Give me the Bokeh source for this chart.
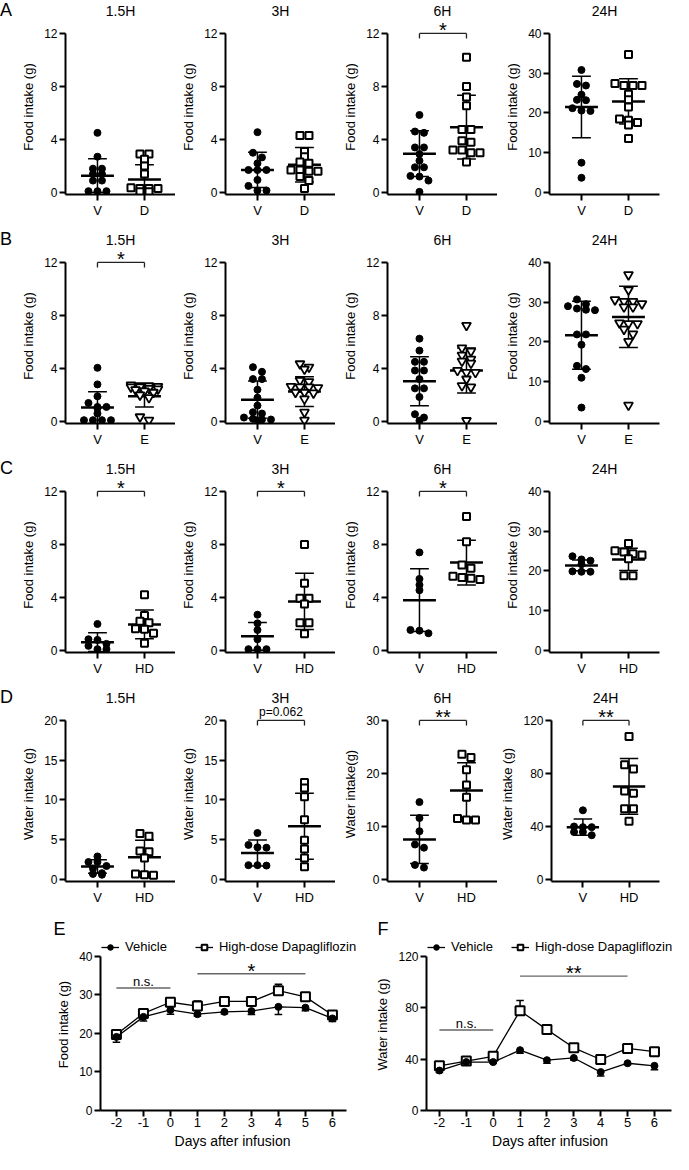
from bokeh.plotting import figure
from bokeh.layouts import column, row
from bokeh.models import Range1d, FixedTicker, Label, Legend, LegendItem, Div, Title
from bokeh.embed import file_html
from bokeh.resources import INLINE

FONT = "Liberation Sans"

# ---------------- data ----------------
TIMES = ["1.5H", "3H", "6H", "24H"]
ROW_LETTERS = ["A", "B", "C", "D"]

# Row A: vehicle (V) vs dapagliflozin (D)
A_GROUPS = ["V", "D"]
A_15H_V = [4.5, 2.7, 1.8, 1.8, 1.4, 1.4, 0.9, 0.9, 0.1, 0.1, 0.1]
A_15H_D = [2.9, 2.9, 2.5, 2.0, 1.4, 0.35, 0.3, 0.3, 0.3, 0.05, 0.05]
A_3H_V = [4.55, 3.0, 2.65, 2.2, 1.7, 1.7, 1.7, 0.95, 0.5, 0.15, 0.15]
A_3H_D = [4.3, 4.3, 3.1, 2.7, 2.3, 2.2, 1.7, 1.7, 1.6, 1.6, 1.2, 0.9, 0.3]
A_6H_V = [5.85, 4.6, 4.5, 3.4, 3.4, 2.9, 2.4, 1.9, 1.9, 1.25, 1.2, 0.9, 0.05]
A_6H_D = [10.2, 8.0, 7.2, 6.55, 4.75, 4.75, 3.9, 3.8, 3.2, 3.0, 3.0, 3.2, 2.3]
A_24H_V = [30.8, 27.3, 26.9, 24.6, 23.2, 23.3, 21.2, 20.5, 20.6, 7.5, 3.7]
A_24H_D = [34.7, 27.4, 26.9, 26.9, 26.9, 24.7, 23.3, 21.5, 18.5, 18.2, 17.6, 17.0, 13.6]
A_MEAN = [(1.27, 0.98), (1.7, 2.1), (2.93, 4.93), (21.5, 22.9)]
A_SD = [(1.27, 1.12), (1.33, 1.3), (1.72, 2.4), (7.75, 5.7)]
A_SIG = [None, None, "*", None]

# Row B: V vs E
B_GROUPS = ["V", "E"]
B_15H_V = [4.05, 2.8, 1.9, 1.4, 1.1, 1.1, 1.0, 0.6, 0.1, 0.1, 0.1, 0.1]
B_15H_E = [2.75, 2.7, 2.7, 2.65, 2.6, 2.6, 2.5, 2.45, 2.4, 2.3, 2.2, 2.0, 1.8, 0.35, 0.1]
B_3H_V = [4.1, 3.75, 3.2, 3.2, 2.4, 1.8, 1.2, 0.7, 0.6, 0.3, 0.2, 0.15, 0.15, 0.1]
B_3H_E = [4.35, 4.1, 3.95, 3.1, 3.0, 2.65, 2.6, 2.6, 2.55, 2.2, 2.2, 2.15, 1.7, 0.7, 0.1]
B_6H_V = [6.25, 5.35, 4.5, 4.5, 3.85, 3.85, 3.2, 2.5, 2.5, 1.85, 0.55, 0.3, 0.07]
B_6H_E = [7.25, 5.55, 5.3, 5.0, 4.7, 4.55, 4.4, 3.85, 3.7, 3.7, 3.2, 2.7, 2.6, 0.07]
B_24H_V = [30.7, 29.5, 29.0, 28.4, 28.1, 28.0, 21.9, 21.9, 19.3, 14.0, 13.2, 11.0, 3.5]
B_24H_E = [36.9, 33.1, 30.6, 30.2, 30.2, 29.6, 28.8, 28.8, 24.8, 24.6, 24.6, 23.2, 22.0, 20.1, 4.1]
B_MEAN = [(1.05, 1.9), (1.65, 2.26), (3.04, 3.85), (21.7, 26.3)]
B_SD = [(1.2, 0.8), (1.41, 1.12), (1.85, 1.7), (8.55, 7.7)]
B_SIG = ["*", None, None, None]

# Row C: V vs HD (food)
C_GROUPS = ["V", "HD"]
C_15H_V = [2.0, 0.85, 0.8, 0.5, 0.35, 0.1, 0.1]
C_15H_HD = [4.2, 2.65, 2.2, 2.1, 1.65, 1.6, 1.3, 0.55]
C_3H_V = [2.7, 2.05, 1.55, 0.85, 0.1, 0.1, 0.1]
C_3H_HD = [8.0, 5.07, 3.95, 3.95, 3.5, 2.1, 2.1, 1.27]
C_6H_V = [7.4, 5.4, 4.95, 4.55, 1.55, 1.5, 1.3]
C_6H_HD = [10.1, 8.2, 6.45, 6.2, 5.6, 5.45, 5.35, 5.5]
C_24H_V = [23.7, 22.9, 22.6, 21.7, 19.9, 19.8, 19.8]
C_24H_HD = [26.9, 25.1, 24.8, 24.3, 24.0, 23.1, 18.8, 18.8]
C_MEAN = [(0.63, 1.97), (1.07, 3.7), (3.8, 6.63), (21.4, 22.9)]
C_SD = [(0.71, 1.08), (1.05, 2.12), (2.37, 1.68), (1.35, 2.8)]
C_SIG = ["*", "*", "*", None]

# Row D: V vs HD (water)
D_GROUPS = ["V", "HD"]
D_15H_V = [2.9, 2.2, 2.2, 1.7, 1.4, 0.8, 0.7, 0.6]
D_15H_HD = [5.8, 5.45, 3.6, 3.5, 2.7, 0.7, 0.6, 0.55]
D_3H_V = [5.85, 4.35, 4.05, 4.0, 1.8, 1.8, 1.75]
D_3H_HD = [12.2, 11.5, 10.4, 7.5, 4.95, 3.85, 2.7, 1.6]
D_6H_V = [14.6, 11.6, 9.1, 6.6, 6.0, 2.75, 2.25]
D_6H_HD = [23.6, 23.0, 20.7, 17.8, 15.5, 11.5, 11.2, 11.2]
D_24H_V = [52.2, 40.0, 39.5, 39.5, 35.8, 35.8, 33.4]
D_24H_HD = [107.8, 86.6, 83.4, 66.8, 65.1, 53.4, 53.4, 43.9]
D_MEAN = [(1.63, 2.8), (3.33, 6.7), (7.56, 16.8), (39.5, 70.2)]
D_SD = [(0.85, 2.15), (1.63, 4.15), (4.55, 5.2), (6.1, 21.0)]
D_SIG = [None, "p=0.062", "**", "**"]

FOOD_MAX = [12, 12, 12, 40]
FOOD_TICKS = [[0, 4, 8, 12]] * 3 + [[0, 10, 20, 30, 40]]
WATER_MAX = [20, 20, 30, 120]
WATER_TICKS = [[0, 5, 10, 15, 20], [0, 5, 10, 15, 20], [0, 10, 20, 30], [0, 40, 80, 120]]
FOOD_LABELS = ["Food intake (g)"] * 4
WATER_LABELS = ["Water intake (g)", "Water intake (g)", "Water intake(g)", "Water intake (g)"]

# Time course (E, F)
DAYS = [-2, -1, 0, 1, 2, 3, 4, 5, 6]
DAY_LABELS = ["-2", "-1", "0", "1", "2", "3", "4", "5", "6"]
E_VEH = [19.1, 24.3, 26.1, 25.0, 25.6, 25.8, 26.9, 26.7, 23.9]
E_VEH_SEM = [1.4, 1.1, 1.1, 0.5, 0.5, 0.9, 2.0, 0.8, 0.8]
E_HD = [19.75, 25.2, 28.1, 27.1, 28.3, 28.3, 31.1, 29.5, 24.8]
E_HD_SEM = [0.5, 0.5, 0.5, 1.3, 0.4, 0.6, 1.7, 0.4, 0.6]
F_VEH = [31.1, 37.7, 37.7, 47.0, 39.2, 40.9, 29.9, 36.8, 34.8]
F_VEH_SEM = [1.5, 1.0, 1.0, 2.5, 2.5, 1.5, 3.0, 1.0, 3.0]
F_HD = [34.8, 38.5, 42.2, 77.7, 63.0, 48.8, 39.7, 48.3, 45.8]
F_HD_SEM = [1.0, 1.0, 1.5, 8.0, 2.0, 1.0, 3.5, 1.0, 1.5]
E_NS_LINE = (-2, 0, 31.8)
E_SIG_LINE = (1, 5, 35.5)
F_NS_LINE = (-2, 0, 62.7)
F_SIG_LINE = (1, 5, 104.7)
LEGEND_LABELS = ["Vehicle", "High-dose Dapagliflozin"]

# ---------------- layout geometry ----------------
ROW_H = 229
TOP_B = 18          # canvas y of frame top
HEAD = 14           # px of frame above the top tick (room for brackets / stars)
DATA_H = 160        # px from 0 to the top tick
LOW = 2             # px of frame below 0
BOT_B = ROW_H - TOP_B - HEAD - DATA_H - LOW
FRAME_W = 110
LETTER_W = 14
COL_W = [161, 160, 162, 176]
COL_BL = [51, 50, 52, 52]
XR = (-0.68, 1.66)

MARKERS = {
    "V": dict(marker="circle", size=7, fill_color="black", line_color="black", line_width=1),
    "D": dict(marker="square", size=7, fill_color="white", line_color="black", line_width=2),
    "HD": dict(marker="square", size=7, fill_color="white", line_color="black", line_width=2),
    "E": dict(marker="inverted_triangle", size=9, fill_color="white", line_color="black", line_width=1.8),
}


def style_axes(p, xsize="13px", ysize="12px"):
    for ax in (p.xaxis[0], p.yaxis[0]):
        ax.axis_line_width = 2
        ax.axis_line_color = "black"
        ax.major_tick_line_width = 2
        ax.major_tick_line_color = "black"
        ax.major_tick_out = 6
        ax.major_tick_in = 0
        ax.minor_tick_line_color = None
        ax.major_label_text_font = FONT
        ax.major_label_text_color = "black"
        ax.axis_label_text_font = FONT
        ax.axis_label_text_font_style = "normal"
        ax.axis_label_text_color = "black"
        ax.axis_label_text_font_size = "13px"
        ax.axis_label_standoff = 5
        ax.major_label_standoff = 2
    p.xaxis[0].major_label_text_font_size = xsize
    p.yaxis[0].major_label_text_font_size = ysize
    p.grid.visible = False
    p.outline_line_color = None


def swarm(vals, xc, ppx, ppy, step=9.0, tol=5.0, maxn=4):
    order = sorted(range(len(vals)), key=lambda i: -vals[i])
    bins = []
    for i in order:
        if bins and len(bins[-1]) < maxn and abs(vals[bins[-1][0]] - vals[i]) * ppy < tol:
            bins[-1].append(i)
        else:
            bins.append([i])
    xs = [xc] * len(vals)
    for b in bins:
        n = len(b)
        for k, i in enumerate(b):
            xs[i] = xc + (k - (n - 1) / 2.0) * step / ppx
    return xs


def small_panel(col, title, groups, series, means, sds, ymax, yticks, ylabel, sig=None):
    W = COL_W[col]
    bl = COL_BL[col]
    br = W - bl - FRAME_W
    ppy = DATA_H / ymax
    y0 = -LOW / ppy
    y1 = ymax + HEAD / ppy
    p = figure(width=W, height=ROW_H, x_range=Range1d(*XR), y_range=Range1d(y0, y1),
               output_backend="svg", toolbar_location=None,
               min_border_left=bl, min_border_right=br, min_border_top=TOP_B, min_border_bottom=BOT_B,
               title=title, background_fill_color="white", border_fill_color="white")
    p.title.align = "center"
    p.title.text_font = FONT
    p.title.text_font_size = "14px"
    p.title.text_font_style = "normal"
    p.title.text_color = "black"
    p.title.standoff = 1
    style_axes(p)
    p.xaxis.ticker = FixedTicker(ticks=[0, 1])
    p.xaxis.major_label_overrides = {0: groups[0], 1: groups[1]}
    p.yaxis.ticker = FixedTicker(ticks=yticks)
    p.yaxis.bounds = (y0, ymax)
    p.yaxis.axis_label = ylabel

    ppx = FRAME_W / (XR[1] - XR[0])
    mhw, chw = 0.35, 0.2
    xs = [0, 1]
    hi = [m + s for m, s in zip(means, sds)]
    lo = [m - s for m, s in zip(means, sds)]
    p.segment(x0=xs, y0=lo, x1=xs, y1=hi, line_color="black", line_width=1.5)
    p.segment(x0=[x - chw for x in xs], y0=hi, x1=[x + chw for x in xs], y1=hi, line_color="black", line_width=1.5)
    p.segment(x0=[x - chw for x in xs], y0=lo, x1=[x + chw for x in xs], y1=lo, line_color="black", line_width=1.5)
    p.segment(x0=[x - mhw for x in xs], y0=list(means), x1=[x + mhw for x in xs], y1=list(means),
              line_color="black", line_width=2.5)
    for gi, (g, vals) in enumerate(zip(groups, series)):
        px = swarm(vals, gi, ppx, ppy)
        p.scatter(px, vals, **MARKERS[g])

    if sig is not None:
        tick = 5.0 / ppy
        p.segment(x0=[0, 0, 1], y0=[ymax, ymax, ymax], x1=[1, 0, 1], y1=[ymax, ymax - tick, ymax - tick],
                  line_color="#222222", line_width=1.3)
        if sig.startswith("p"):
            p.add_layout(Label(x=0.5, y=ymax, text=sig, text_align="center", text_baseline="middle",
                               y_offset=8, text_font=FONT, text_font_size="12px", text_color="black"))
        else:
            p.add_layout(Label(x=0.5, y=ymax, text=sig, text_align="center", text_baseline="middle",
                               y_offset=3, text_font=FONT, text_font_size="20px", text_color="black"))
    return p


def letter_div(letter, height):
    return Div(text=letter, width=LETTER_W, height=height, margin=(0, 0, 0, 0),
               styles={"font-size": "18px", "font-family": FONT, "line-height": "18px",
                       "padding-top": "1px", "color": "black"})


def make_row(letter, groups, data, means, sds, ymaxs, ticks, labels, sigs):
    figs = [letter_div(letter, ROW_H)]
    for c in range(4):
        figs.append(small_panel(c, TIMES[c], groups, data[c], means[c], sds[c], ymaxs[c], ticks[c],
                                labels[c], sig=sigs[c]))
    return row(*figs)


rowA = make_row(ROW_LETTERS[0], A_GROUPS,
                [(A_15H_V, A_15H_D), (A_3H_V, A_3H_D), (A_6H_V, A_6H_D), (A_24H_V, A_24H_D)],
                A_MEAN, A_SD, FOOD_MAX, FOOD_TICKS, FOOD_LABELS, A_SIG)
rowB = make_row(ROW_LETTERS[1], B_GROUPS,
                [(B_15H_V, B_15H_E), (B_3H_V, B_3H_E), (B_6H_V, B_6H_E), (B_24H_V, B_24H_E)],
                B_MEAN, B_SD, FOOD_MAX, FOOD_TICKS, FOOD_LABELS, B_SIG)
rowC = make_row(ROW_LETTERS[2], C_GROUPS,
                [(C_15H_V, C_15H_HD), (C_3H_V, C_3H_HD), (C_6H_V, C_6H_HD), (C_24H_V, C_24H_HD)],
                C_MEAN, C_SD, FOOD_MAX, FOOD_TICKS, FOOD_LABELS, C_SIG)
rowD = make_row(ROW_LETTERS[3], D_GROUPS,
                [(D_15H_V, D_15H_HD), (D_3H_V, D_3H_HD), (D_6H_V, D_6H_HD), (D_24H_V, D_24H_HD)],
                D_MEAN, D_SD, WATER_MAX, WATER_TICKS, WATER_LABELS, D_SIG)

# ---------------- time-course panels ----------------
EF_H = 1154 - 4 * ROW_H
EF_TOP, EF_BOT, EF_HEAD = 21, 44, 18
EF_DATA_H = EF_H - EF_TOP - EF_BOT - EF_HEAD


def course_panel(W, bl, frame_w, x_start, px_per_day, x_axis_end, ymax, yticks, ylabel,
                 veh, veh_sem, hd, hd_sem, ns_line, sig_line, sig_text, letter, letter_off, leg_spacing):
    br = W - bl - frame_w
    x_end = x_start + frame_w / px_per_day
    ppy = EF_DATA_H / ymax
    y1 = ymax + EF_HEAD / ppy
    p = figure(width=W, height=EF_H, x_range=Range1d(x_start, x_end), y_range=Range1d(0, y1),
               output_backend="svg", toolbar_location=None,
               min_border_left=bl, min_border_right=br, min_border_top=EF_TOP, min_border_bottom=EF_BOT,
               background_fill_color="white", border_fill_color="white")
    p.title = Title(text=letter, align="left", offset=letter_off, text_font=FONT, text_font_size="18px",
                    text_font_style="normal", text_color="black", standoff=0)
    style_axes(p, xsize="13px", ysize="12px")
    p.xaxis.ticker = FixedTicker(ticks=DAYS)
    p.xaxis.major_label_overrides = dict(zip(DAYS, DAY_LABELS))
    p.xaxis.bounds = (x_start, x_axis_end)
    p.yaxis.ticker = FixedTicker(ticks=yticks)
    p.yaxis.bounds = (0, ymax)
    p.xaxis.axis_label = "Days after infusion"
    p.xaxis.axis_label_text_font_size = "14px"
    p.xaxis.axis_label_standoff = 3
    p.xaxis.major_label_standoff = 1
    p.yaxis.axis_label = ylabel
    cap = 0.14
    hd_hi = [m + s for m, s in zip(hd, hd_sem)]
    veh_lo = [m - s for m, s in zip(veh, veh_sem)]
    p.segment(x0=DAYS, y0=hd, x1=DAYS, y1=hd_hi, line_color="black", line_width=1.5)
    p.segment(x0=[d - cap for d in DAYS], y0=hd_hi, x1=[d + cap for d in DAYS], y1=hd_hi,
              line_color="black", line_width=1.5)
    p.segment(x0=DAYS, y0=veh, x1=DAYS, y1=veh_lo, line_color="black", line_width=1.5)
    p.segment(x0=[d - cap for d in DAYS], y0=veh_lo, x1=[d + cap for d in DAYS], y1=veh_lo,
              line_color="black", line_width=1.5)
    l2 = p.line(DAYS, hd, line_color="black", line_width=1.3)
    s2 = p.scatter(DAYS, hd, marker="square", size=9, fill_color="white", line_color="black", line_width=2)
    l1 = p.line(DAYS, veh, line_color="black", line_width=1.3)
    s1 = p.scatter(DAYS, veh, marker="circle", size=7, fill_color="black", line_color="black")

    for (xa, xb, yl), txt, fs, off in [(ns_line, "n.s.", "13px", 6), (sig_line, sig_text, "20px", 3)]:
        p.segment(x0=[xa], y0=[yl], x1=[xb], y1=[yl], line_color="#666666", line_width=1.3)
        p.add_layout(Label(x=(xa + xb) / 2.0, y=yl, text=txt, text_align="center", text_baseline="middle",
                           y_offset=off, text_font=FONT, text_font_size=fs, text_color="black"))

    leg = Legend(items=[LegendItem(label=LEGEND_LABELS[0], renderers=[l1, s1]),
                        LegendItem(label=LEGEND_LABELS[1], renderers=[l2, s2])],
                 orientation="horizontal", location="top_left",
                 label_text_font=FONT, label_text_font_size="13px", label_text_color="black",
                 glyph_width=18, glyph_height=14, label_height=14, label_standoff=6, spacing=leg_spacing,
                 padding=0, margin=1, border_line_color=None, background_fill_alpha=0)
    p.add_layout(leg)
    return p


pE = course_panel(372, 100, 264, -2.59, 27.0, 6.52, 40, [0, 10, 20, 30, 40], "Food intake (g)",
                  E_VEH, E_VEH_SEM, E_HD, E_HD_SEM, E_NS_LINE, E_SIG_LINE, "*", "E", -47, 28)
pF = course_panel(301, 52, 249, -2.48, 27.1, 6.63, 120, [0, 40, 80, 120], "Water intake (g)",
                  F_VEH, F_VEH_SEM, F_HD, F_HD_SEM, F_NS_LINE, F_SIG_LINE, "**", "F", -49, 18)
rowEF = row(pE, pF)

layout = column(rowA, rowB, rowC, rowD, rowEF)
open("out.html", "w").write(file_html(layout, INLINE))
